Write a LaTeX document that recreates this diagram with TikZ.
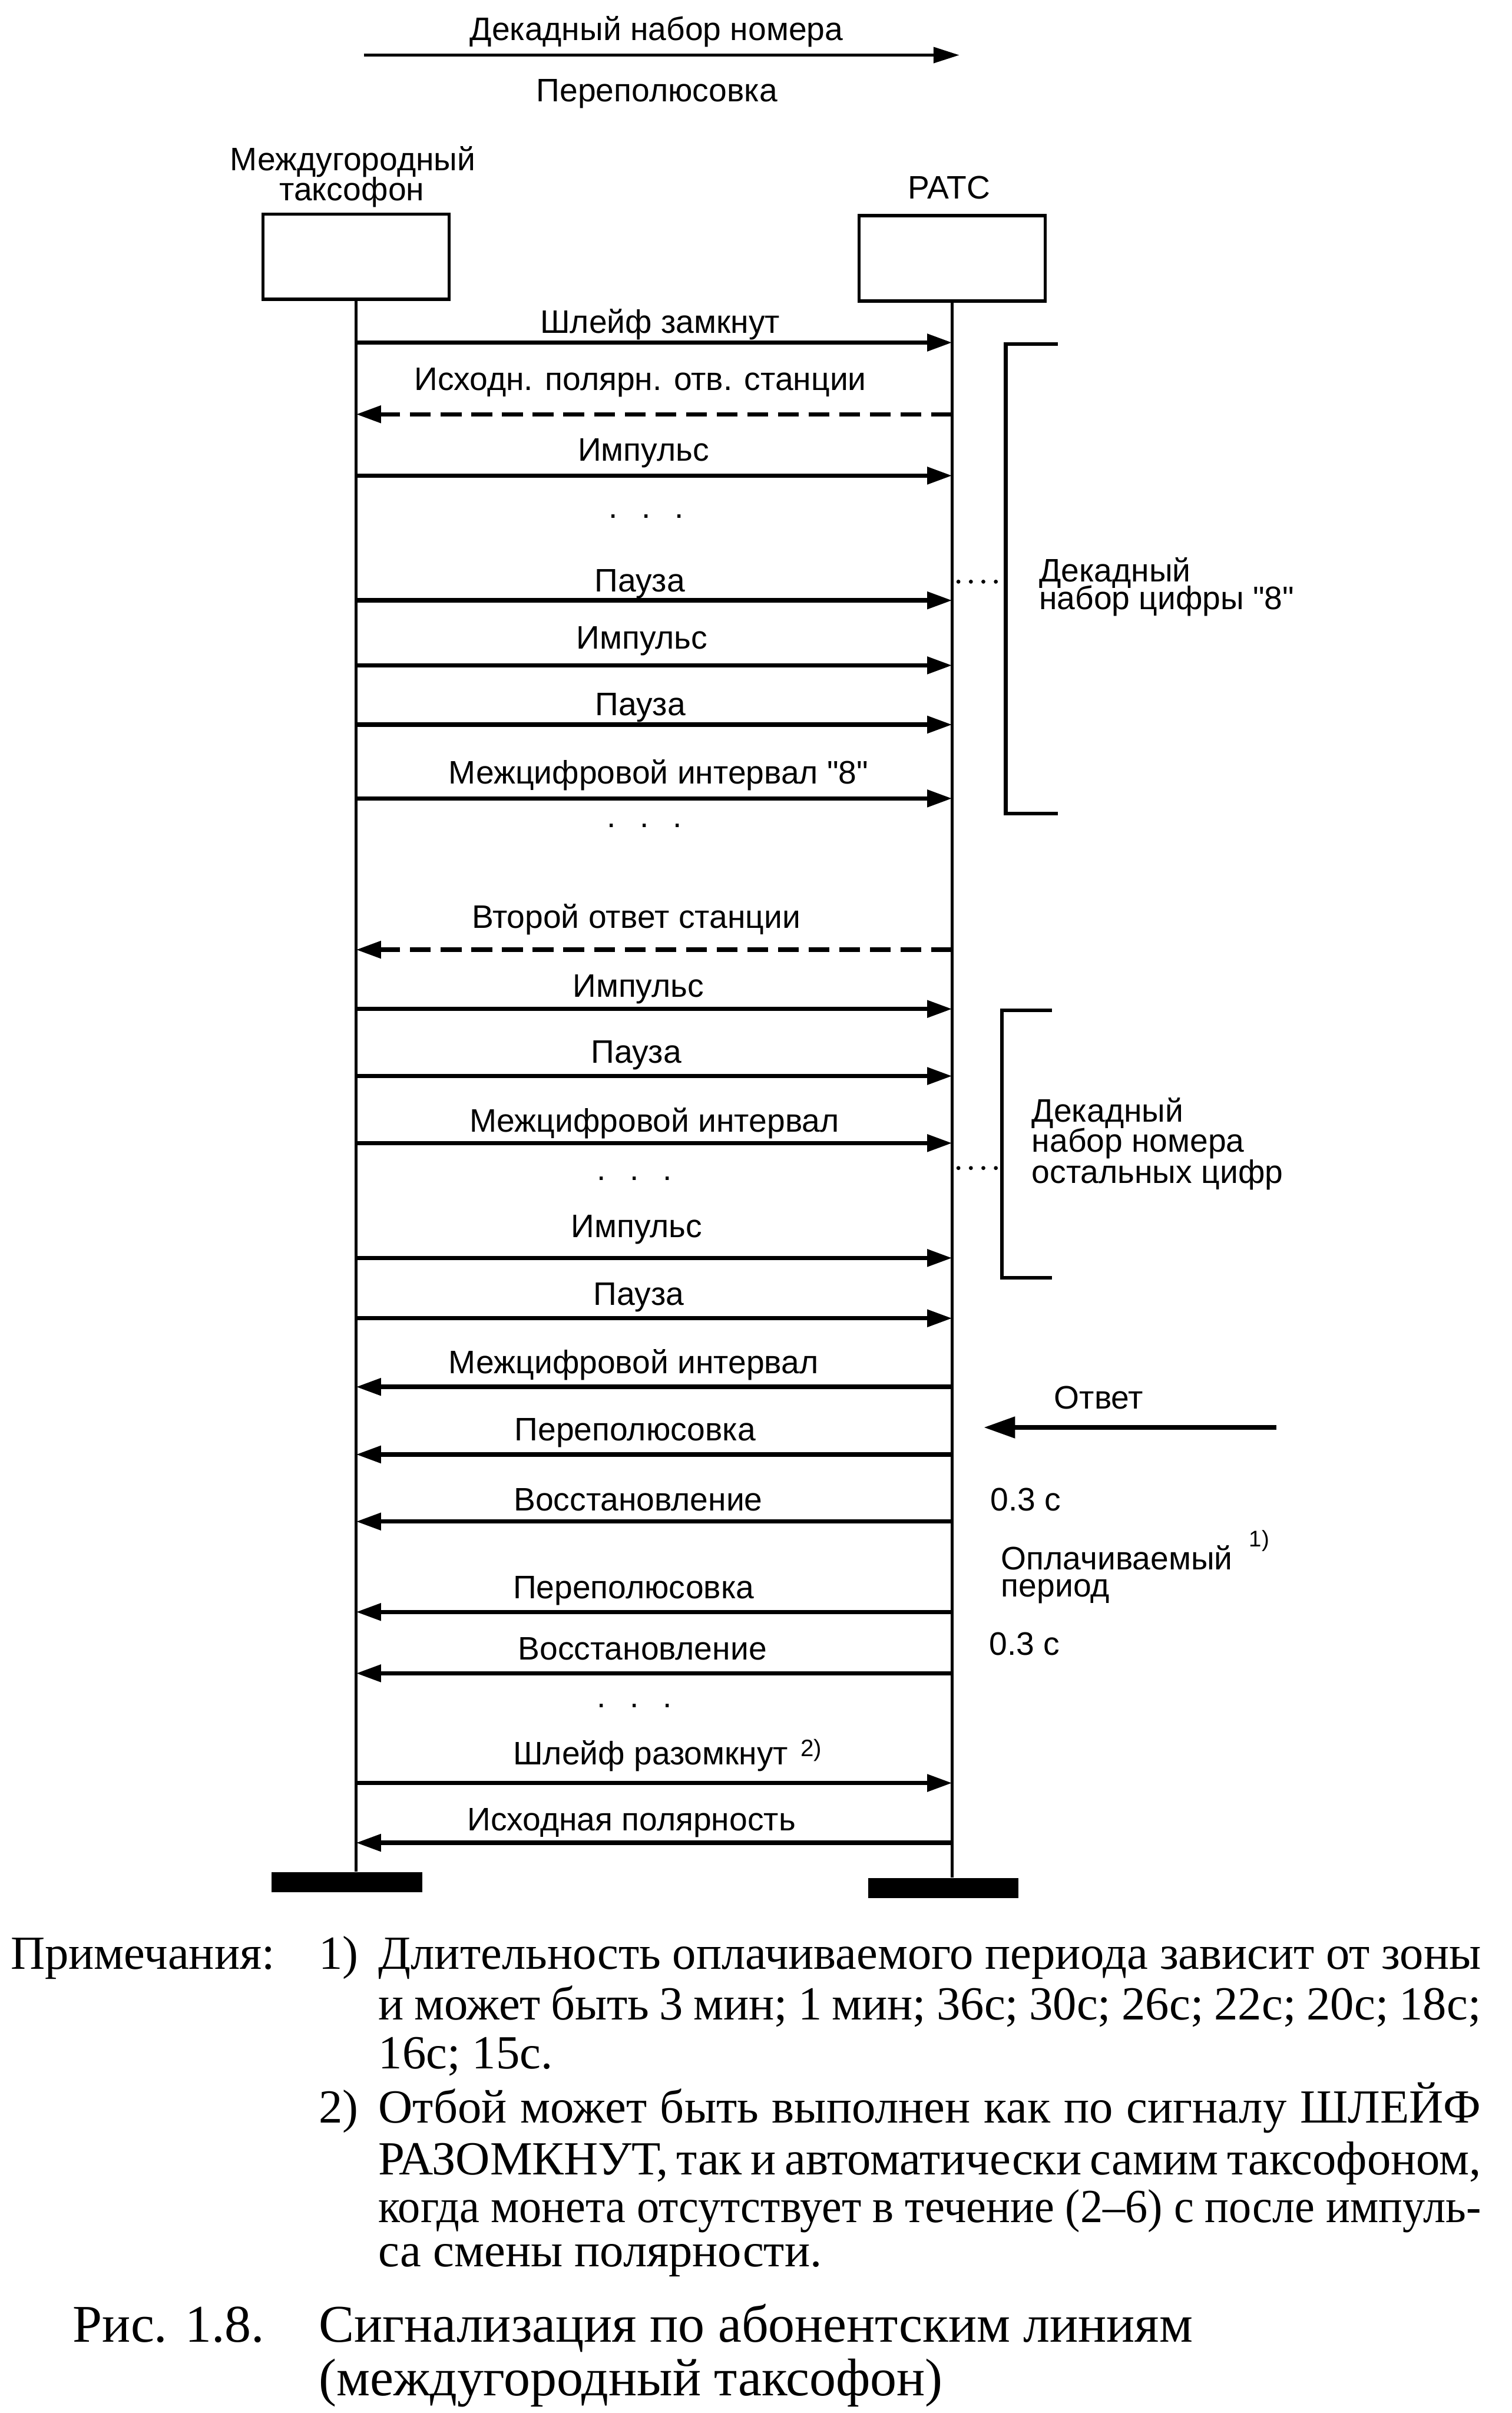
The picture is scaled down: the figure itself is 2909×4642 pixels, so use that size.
\documentclass[tikz,border=0pt]{standalone}
\usepackage{fontspec}
\usepackage{graphicx}
\setmainfont{Liberation Serif}
\newfontfamily\diafont{Liberation Sans}
\usetikzlibrary{arrows.meta}
\newcommand\lblsize{\diafont\fontsize{8.9}{8.9}\selectfont}
\newcommand\tridots{.\hspace{2.3mm}.\hspace{2.3mm}.}

\begin{document}
\begin{tikzpicture}[x=0.05mm,y=-0.05mm,
    party/.style={draw,line width=0.9pt,minimum width=17.9mm,minimum height=8.2mm,inner sep=0pt},
    endbar/.style={fill=black,minimum width=14.5mm,minimum height=1.9mm,inner sep=0pt},
    life/.style={line width=0.8pt},
    sig/.style={-{Triangle[length=2.4mm,width=1.6mm]},line width=1.2pt},
    ans/.style={sig,dash pattern=on 2mm off 0.95mm},
    lbl/.style={font=\lblsize,anchor=base,inner sep=0pt},
    side/.style={lbl,anchor=base west},
    brk/.style={line width=1pt},
    lead/.style={line width=1.1pt,line cap=round,dash pattern=on 0pt off 1.2mm},
    note/.style={font=\fontsize{13}{13}\selectfont,anchor=base west,inner sep=0pt},
    capt/.style={note,font=\fontsize{14.5}{14.5}\selectfont}
  ]
    \useasboundingbox (0,0) rectangle (2909,4642);

    % header
    \node[lbl] (hdial) at (1263,78) {Декадный набор номера};
    \coordinate (hfrom) at (700,106);
    \coordinate (hto) at (1846,106);
    \draw[-{Triangle[length=2.5mm,width=1.5mm]},line width=0.9pt] (hfrom) -- (hto);
    \node[lbl] (hrev) at (1264,196) {Переполюсовка};

    % parties
    \node[lbl] (taxname1) at (679,328) {Междугородный};
    \node[lbl] (taxname2) at (677,386) {таксофон};
    \node[lbl] (ratcname) at (1826,382) {РАТС};
    \node[party] (tax) at (685,494) {};
    \node[party] (ratc) at (1832,497) {};
    \node[endbar] (taxbar) at (668,3621) {};
    \node[endbar] (ratcbar) at (1815,3632) {};
    \draw[life] (tax.south) -- (tax.south |- taxbar.north);
    \draw[life] (ratc.south) -- (ratc.south |- ratcbar.north);

    % digit 8
    \draw[sig] (tax |- 0,659) -- (ratc |- 0,659);
    \node[lbl] (m1) at (1270,641) {Шлейф замкнут};
    \draw[ans] (ratc |- 0,797) -- (tax |- 0,797);
    \node[lbl] (m2) at (1232,751) {Исходн. полярн. отв. станции};
    \draw[sig] (tax |- 0,915) -- (ratc |- 0,915);
    \node[lbl] (m3) at (1238,887) {Импульс};
    \node[lbl] (g1) at (1243,997) {\tridots};
    \draw[sig] (tax |- 0,1155) -- (ratc |- 0,1155);
    \node[lbl] (m4) at (1231,1138) {Пауза};
    \draw[sig] (tax |- 0,1280) -- (ratc |- 0,1280);
    \node[lbl] (m5) at (1235,1248) {Импульс};
    \draw[sig] (tax |- 0,1394) -- (ratc |- 0,1394);
    \node[lbl] (m6) at (1232,1376) {Пауза};
    \draw[sig] (tax |- 0,1536) -- (ratc |- 0,1536);
    \node[lbl] (m7) at (1267,1508) {Межцифровой интервал "8"};
    \node[lbl] (g2) at (1240,1592) {\tridots};

    % other digits
    \draw[ans] (ratc |- 0,1827) -- (tax |- 0,1827);
    \node[lbl] (m8) at (1224,1785) {Второй ответ станции};
    \draw[sig] (tax |- 0,1941) -- (ratc |- 0,1941);
    \node[lbl] (m9) at (1228,1918) {Импульс};
    \draw[sig] (tax |- 0,2070) -- (ratc |- 0,2070);
    \node[lbl] (m10) at (1224,2045) {Пауза};
    \draw[sig] (tax |- 0,2199) -- (ratc |- 0,2199);
    \node[lbl] (m11) at (1259,2178) {Межцифровой интервал};
    \node[lbl] (g3) at (1221,2270) {\tridots};
    \draw[sig] (tax |- 0,2420) -- (ratc |- 0,2420);
    \node[lbl] (m12) at (1225,2381) {Импульс};
    \draw[sig] (tax |- 0,2536) -- (ratc |- 0,2536);
    \node[lbl] (m13) at (1229,2511) {Пауза};

    % answer and paid period
    \draw[sig] (ratc |- 0,2668) -- (tax |- 0,2668);
    \node[lbl] (m14) at (1219,2642) {Межцифровой интервал};
    \draw[sig] (ratc |- 0,2798) -- (tax |- 0,2798);
    \node[lbl] (m15) at (1222,2772) {Переполюсовка};
    \draw[sig] (ratc |- 0,2927) -- (tax |- 0,2927);
    \node[lbl] (m16) at (1228,2906) {Восстановление};
    \draw[sig] (ratc |- 0,3101) -- (tax |- 0,3101);
    \node[lbl] (m17) at (1219,3075) {Переполюсовка};
    \draw[sig] (ratc |- 0,3219) -- (tax |- 0,3219);
    \node[lbl] (m18) at (1236,3193) {Восстановление};
    \node[lbl] (g4) at (1221,3285) {\tridots};
    \draw[sig] (tax |- 0,3430) -- (ratc |- 0,3430);
    \node[side] (m19) at (986,3395) {Шлейф разомкнут\hspace{1.2mm}\raisebox{0.8mm}{\fontsize{6.5}{6.5}\selectfont 2)}};
    \draw[sig] (ratc |- 0,3545) -- (tax |- 0,3545);
    \node[lbl] (m20) at (1215,3522) {Исходная полярность};

    % brackets
    \draw[brk] (2035,662) -| (1935,1565) -- (2035,1565);
    \coordinate (brk1) at (1935,1119);
    \draw[lead,shorten <=0.6mm,shorten >=0.5mm] (ratc |- brk1) -- (brk1);
    \node[side] (d8a) at (1998,1119) {Декадный};
    \node[side] (d8b) at (1998,1172) {набор цифры "8"};
    \draw[brk] (2024,1944) -| (1928,2458) -- (2024,2458);
    \coordinate (brk2) at (1928,2247);
    \draw[lead,shorten <=0.6mm,shorten >=0.5mm] (ratc |- brk2) -- (brk2);
    \node[side] (dra) at (1984,2158) {Декадный};
    \node[side] (drb) at (1984,2216) {набор номера};
    \node[side] (drc) at (1984,2276) {остальных цифр};

    \node[side] (otv) at (2027,2710) {Ответ};
    \coordinate (otvtail) at (2456,2746);
    \coordinate (otvtip) at (1893,2746);
    \draw[-{Triangle[length=3mm,width=2mm]},line width=1.2pt] (otvtail) -- (otvtip);
    \node[side] (t1) at (1904,2906) {0.3 с};
    \node[side] (pay1) at (1925,3020) {Оплачиваемый};
    \node[side] (pay2) at (1925,3072) {период};
    \node[side,font=\diafont\fontsize{6.2}{6.2}\selectfont] (fn1) at (2402,2975) {1)};
    \node[side] (t2) at (1902,3184) {0.3 с};

    % notes
    \node[note] (nhead) at (19,3788) {Примечания:};
    \node[note] (n1num) at (612,3788) {1)};
    \node[note] (n1a) at (727,3788) {\hbox to 106.05mm{Длительность оплачиваемого периода зависит от зоны}};
    \node[note] (n1b) at (727,3885) {\hbox to 106.05mm{и может быть 3 мин; 1 мин; 36с; 30с; 26с; 22с; 20с; 18с;}};
    \node[note] (n1c) at (727,3980) {16с; 15с.};
    \node[note] (n2num) at (612,4084) {2)};
    \node[note] (n2a) at (727,4084) {\hbox to 106.05mm{Отбой может быть выполнен как по сигналу ШЛЕЙФ}};
    \node[note] (n2b) at (727,4183) {\hbox to 106.05mm{РАЗОМКНУТ, так и автоматически самим таксофоном,}};
    \node[note] (n2c) at (727,4275) {\resizebox{106.05mm}{\height}{когда монета отсутствует в течение (2–6) с после импуль-}};
    \node[note] (n2d) at (727,4360) {са смены полярности.};

    % caption
    \node[capt] (fig) at (139,4505) {Рис. 1.8.};
    \node[capt] (figa) at (612,4505) {Сигнализация по абонентским линиям};
    \node[capt] (figb) at (612,4608) {(междугородный таксофон)};
\end{tikzpicture}
\end{document}
